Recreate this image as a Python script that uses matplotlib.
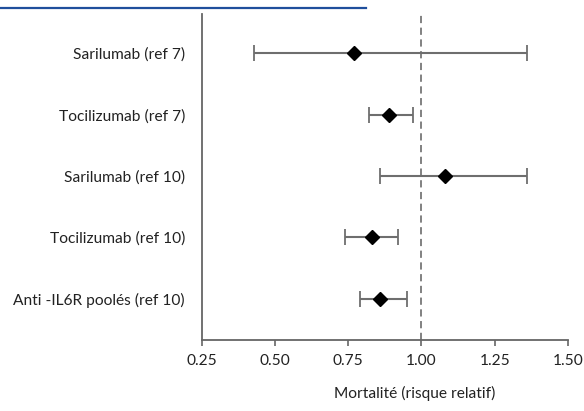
import matplotlib
matplotlib.use("Agg")
import matplotlib.pyplot as plt
from matplotlib.lines import Line2D

labels = ["Sarilumab (ref 7)", "Tocilizumab (ref 7)", "Sarilumab (ref 10)",
          "Tocilizumab (ref 10)", "Anti -IL6R poolés (ref 10)"]
estimate = [0.77, 0.89, 1.08, 0.83, 0.86]
lower = [0.43, 0.82, 0.86, 0.74, 0.79]
upper = [1.36, 0.97, 1.36, 0.92, 0.95]
xticks = [0.25, 0.50, 0.75, 1.00, 1.25, 1.50]
xtick_labels = ["0.25", "0.50", "0.75", "1.00", "1.25", "1.50"]
xlabel = "Mortalité (risque relatif)"

plt.rcParams['font.family'] = ['Lato', 'DejaVu Sans']

W, H = 584, 411
fig = plt.figure(figsize=(W / 100, H / 100), dpi=100)
ax = fig.add_axes([201.7 / W, (H - 340) / H, 366.3 / W, 326 / H])

ypos = list(range(1, len(labels) + 1))
xerr = [[e - l for e, l in zip(estimate, lower)], [u - e for e, u in zip(estimate, upper)]]
ax.axvline(1.0, color="#777777", linestyle=(0, (4, 2.5)), linewidth=1.3, zorder=1)
ax.errorbar(estimate, ypos, xerr=xerr, fmt="none", ecolor="#6e6e6e",
            elinewidth=1.5, capsize=5.5, capthick=1.3, zorder=2)
ax.plot(estimate, ypos, linestyle="none", marker="D", markersize=7.5,
        color="black", zorder=3)

ax.set_xlim(0.25, 1.50)
ax.set_ylim(5.67, 0.36)
ax.set_xticks(xticks)
ax.set_xticklabels(xtick_labels, fontsize=11.2, color="#222222")
ax.set_yticks(ypos)
ax.set_yticklabels(labels, fontsize=11.2, color="#222222")
ax.tick_params(axis="y", length=0, pad=12)
ax.tick_params(axis="x", length=4, width=1.2, color="#666666", pad=6)
for s in ["top", "right"]:
    ax.spines[s].set_visible(False)
for s in ["left", "bottom"]:
    ax.spines[s].set_color("#666666")
    ax.spines[s].set_linewidth(1.3)

fig.text(415 / W, 1 - 393 / H, xlabel, ha="center", va="center",
         fontsize=11.2, color="#222222")
fig.add_artist(Line2D([0, 366 / W], [1 - 8.3 / H, 1 - 8.3 / H],
                      transform=fig.transFigure, color="#1f4f9c", linewidth=1.6))

fig.savefig("out.png", dpi=100)
